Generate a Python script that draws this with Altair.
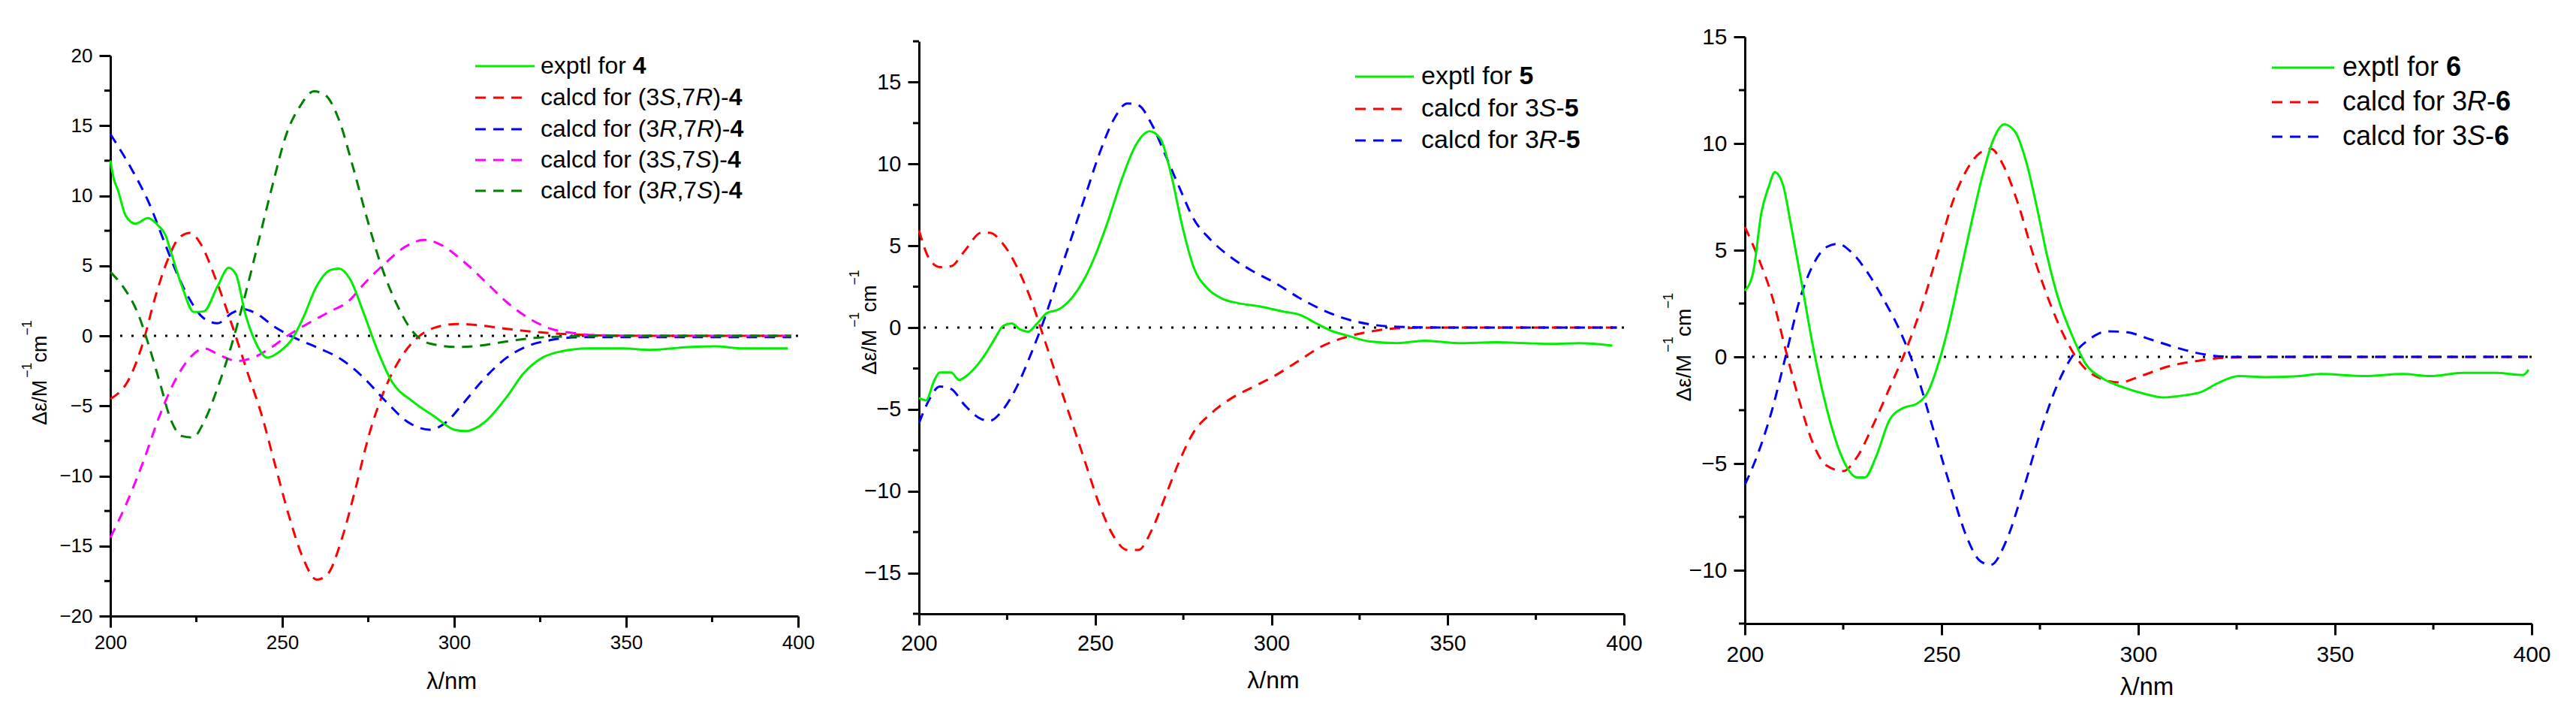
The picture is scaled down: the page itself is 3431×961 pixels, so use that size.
import re
import altair as alt
import pandas as pd

# ---------------- data ----------------
# Panel 1 : compound 4
wl4_exp = [200, 201, 202.2, 204.4, 207.3, 210.9, 213.8, 216, 217.6, 220.8, 224.3, 227.2, 231.2, 234.4,
           236.5, 239.2, 242.4, 245.6, 249.6, 252.8, 256, 260, 264, 266.5, 269.7, 273.7, 277.7, 281.7,
           288, 294.5, 300, 303.3, 308.9, 315.3, 320.1, 325.7, 331.3, 339.3, 349, 357, 368, 376, 384, 392, 397]
cd4_exp = [12.5, 11.2, 10.4, 8.6, 8.0, 8.4, 7.9, 7.2, 6.0, 3.55, 1.7, 1.75, 3.55, 4.85,
           4.4, 1.6, -0.55, -1.55, -1.05, -0.25, 1.25, 3.55, 4.7, 4.8, 4.05, 1.6, -1.05, -3.2,
           -4.7, -5.8, -6.7, -6.8, -6.15, -4.35, -2.7, -1.55, -1.1, -0.9, -0.9, -1.0, -0.8, -0.75, -0.9, -0.9, -0.9]

wl4_s7r = [200, 205.6, 209.6, 212.8, 216.8, 220, 223.2, 226.4, 230.4, 235.2, 240, 244, 248, 252, 256, 260,
           263.2, 267.3, 271.3, 275.3, 280, 284.9, 289.7, 294.5, 300.9, 307.3, 315.3, 324.9, 334.5, 345,
           360, 380, 398]
cd4_s7r = [-4.5, -3.0, -0.4, 2.55, 5.5, 7.0, 7.35, 6.5, 4.2, 0.9, -2.7, -5.65, -9.3, -12.9, -15.85, -17.4,
           -17.0, -14.5, -10.9, -7.0, -3.7, -1.4, -0.05, 0.6, 0.85, 0.75, 0.5, 0.25, 0.1, 0.02,
           0, 0, 0]

wl4_r7r = [200, 206.4, 211.2, 216, 219.2, 223.2, 227.2, 231.2, 235.2, 238.4, 242.4, 248, 252.8, 260.8,
           267.3, 273.7, 280, 286.5, 292.9, 297.7, 302.5, 308.9, 315.3, 321.7, 328.1, 336.1, 344, 360,
           380, 398]
cd4_r7r = [14.4, 11.8, 9.5, 6.5, 4.55, 2.55, 1.25, 0.9, 1.6, 1.9, 1.6, 0.6, -0.05, -0.9,
           -1.7, -3.0, -4.65, -6.15, -6.7, -6.15, -4.85, -3.0, -1.55, -0.7, -0.3, -0.1, -0.1, -0.1,
           -0.1, -0.1]

wl4_s7s = [200, 204.8, 209.6, 214.4, 219.2, 223.2, 227.2, 232, 236.8, 241.6, 246.4, 251.2, 257.6, 264,
           268.9, 274.5, 280, 285.7, 291.3, 296.1, 302.5, 308.9, 315.3, 321.7, 328.1, 334.5, 340.9, 360,
           380, 398]
cd4_s7s = [-14.4, -11.9, -8.95, -5.65, -3.0, -1.55, -0.9, -1.4, -1.8, -1.55, -0.9, -0.05, 0.9, 1.75,
           2.4, 3.9, 5.2, 6.35, 6.85, 6.5, 5.35, 3.9, 2.4, 1.25, 0.5, 0.2, 0.05, 0,
           0, 0]

wl4_r7s = [200, 204, 208, 211.2, 214.4, 217.6, 220.8, 224, 227.2, 231.2, 235.2, 239.2, 243.2, 247.2,
           251.2, 255.2, 259.2, 262.4, 266.5, 270.5, 274.5, 278.5, 283.3, 288.1, 292.9, 300.9, 307.3,
           315.3, 323.3, 331.3, 345, 360, 380, 398]
cd4_r7s = [4.55, 3.4, 1.6, -0.7, -3.35, -6.0, -7.15, -7.25, -6.15, -3.7, -0.7, 2.9, 6.85, 10.8,
           14.4, 16.4, 17.45, 17.2, 15.4, 12.1, 8.5, 5.2, 2.25, 0.25, -0.55, -0.8, -0.7,
           -0.4, -0.15, -0.05, 0, 0, 0, 0]

# Panel 2 : compound 5
wl5_exp = [200, 202, 204.4, 205.9, 209.1, 211.4, 213.8, 216.9, 219.2, 221.6, 223.9, 226.3, 228.6, 231,
           233.3, 236.4, 239.6, 243.5, 246.6, 249.7, 253.6, 257.5, 261.5, 265.4, 268.5, 271.6, 274.7,
           277.9, 281.8, 285.7, 290.4, 296.6, 302.9, 308.4, 312.3, 317, 321.7, 327.9, 335.7, 343.5,
           352.9, 363.9, 371.7, 379.5, 387.3, 396.7]
cd5_exp = [-4.3, -4.45, -3.2, -2.75, -2.75, -3.2, -2.9, -2.2, -1.5, -0.65, 0.1, 0.25, -0.1, -0.25,
           0.2, 0.9, 1.1, 1.85, 2.85, 4.25, 6.5, 9.05, 11.15, 12.0, 11.55, 9.3, 6.2,
           3.7, 2.4, 1.8, 1.5, 1.3, 1.0, 0.75, 0.3, -0.2, -0.5, -0.85, -0.95, -0.8,
           -0.95, -0.9, -0.95, -1.0, -0.95, -1.1]

wl5_calc = [200, 202.8, 205.9, 209.1, 213, 217.7, 220, 223.9, 227.8, 231.7, 235.7, 239.6, 243.5, 247.4,
            251.3, 255.2, 259.1, 262.2, 266.1, 270.1, 274, 277.9, 282.6, 288.8, 295.1, 301.3, 307.6,
            313.8, 320.1, 327.9, 335.7, 350, 370, 398]
cd5_3s = [5.95, 4.25, 3.7, 3.75, 4.7, 5.8, 5.8, 5.1, 3.7, 1.75, -0.8, -3.35, -5.85, -8.4,
          -10.9, -12.75, -13.6, -13.6, -12.35, -10.2, -8.1, -6.4, -5.3, -4.3, -3.6, -2.9, -2.05,
          -1.2, -0.65, -0.25, -0.05, 0, 0, 0]
cd5_3r = [-5.85, -4.45, -3.6, -3.75, -4.75, -5.6, -5.7, -5.0, -3.6, -1.65, 0.6, 3.15, 5.65, 8.2,
          10.7, 12.7, 13.7, 13.6, 12.4, 10.45, 8.5, 6.65, 5.4, 4.25, 3.4, 2.7, 1.85,
          1.15, 0.6, 0.2, 0.05, 0, 0, 0]

# Panel 3 : compound 6
wl6_exp = [200, 202.1, 204.2, 206.2, 207.6, 209.7, 211.8, 214.6, 217.3, 220.1, 222.9, 225.7, 228.5,
           230.5, 233.3, 236.8, 240.2, 243.7, 246.5, 249.3, 252, 254.8, 257.6, 260.4, 263.2, 265.9,
           268.7, 271.5, 274.3, 277, 279.8, 283.3, 286.7, 290.9, 296.5, 302, 306.2, 311.7, 315.9,
           320, 325.6, 332.5, 340.9, 346.4, 357.5, 367.2, 374.2, 382.5, 390.8, 397.8, 399.2]
cd6_exp = [3.1, 3.95, 6.75, 8.05, 8.65, 8.05, 6.1, 3.3, 0.5, -1.9, -3.8, -5.1, -5.65,
           -5.65, -4.7, -2.95, -2.4, -2.2, -1.65, -0.25, 1.6, 3.95, 6.3, 8.5, 10.2, 10.9,
           10.55, 9.15, 6.95, 4.6, 2.65, 0.95, -0.35, -1.0, -1.45, -1.75, -1.9, -1.8, -1.65,
           -1.25, -0.9, -0.95, -0.9, -0.8, -0.9, -0.8, -0.9, -0.75, -0.75, -0.85, -0.6]

wl6_3r = [200, 203.5, 206.9, 210.4, 213.9, 217.3, 220.8, 225, 228.5, 232.6, 236.8, 240.9, 245.1,
          249.3, 252.7, 256.2, 259.7, 262.5, 265.9, 269.4, 273.6, 277.7, 281.9, 286, 290.9, 295.1,
          300.6, 307.6, 314.5, 321.4, 335, 360, 380, 399]
cd6_3r = [6.1, 4.6, 2.85, 0.3, -2.1, -4.05, -5.1, -5.35, -4.7, -3.2, -1.45, 0.3, 2.45,
          5.05, 7.2, 8.7, 9.55, 9.75, 8.9, 7.2, 4.6, 2.45, 0.7, -0.45, -1.05, -1.2,
          -0.9, -0.45, -0.2, -0.05, 0, 0, 0, 0]

wl6_3s = [200, 203.5, 206.9, 210.4, 213.9, 217.3, 220.8, 223.6, 227.1, 231.2, 235.4, 239.6, 243.7,
          247.9, 252.1, 256.2, 259.7, 262.5, 266.6, 270.8, 275, 279.1, 283.3, 287.4, 292.3, 297.2,
          303.4, 310.3, 317.3, 324.2, 340, 360, 380, 399]
cd6_3s = [-6.0, -4.45, -2.5, 0.05, 2.65, 4.3, 5.15, 5.3, 4.9, 3.95, 2.65, 1.15, -0.8,
          -3.4, -6.0, -8.35, -9.55, -9.75, -8.55, -6.2, -3.6, -1.45, 0.05, 0.8, 1.2, 1.15,
          0.8, 0.4, 0.1, 0, 0, 0, 0, 0]

# Legend labels (<i> italic, <b> bold)
lab4 = ["exptl for <b>4</b>",
        "calcd for (3<i>S</i>,7<i>R</i>)-<b>4</b>",
        "calcd for (3<i>R</i>,7<i>R</i>)-<b>4</b>",
        "calcd for (3<i>S</i>,7<i>S</i>)-<b>4</b>",
        "calcd for (3<i>R</i>,7<i>S</i>)-<b>4</b>"]
lab5 = ["exptl for <b>5</b>",
        "calcd for 3<i>S</i>-<b>5</b>",
        "calcd for 3<i>R</i>-<b>5</b>"]
lab6 = ["exptl for <b>6</b>",
        "calcd for 3<i>R</i>-<b>6</b>",
        "calcd for 3<i>S</i>-<b>6</b>"]

# y-axis title pieces: (text, is_superscript)
ytitle_parts = [("Δε/M", False), ("−1", True), ("cm", False), ("−1", True)]
x_title = "λ/nm"

x_major = [200, 250, 300, 350, 400]
x_minor = [225, 275, 325, 375]

# ---------------- styling ----------------
FONT = "Liberation Sans"
GREEN = "#00ee00"
RED = "#ff0000"
BLUE = "#0000ff"
MAGENTA = "#ff00ff"
DKGREEN = "#008000"
DASH = [14, 10]

# Arial / Liberation Sans advance widths (1/1000 em)
AW = {'a': 556, 'c': 500, 'd': 556, 'e': 556, 'f': 278, 'l': 222, 'o': 556, 'p': 556, 'r': 333,
      't': 278, 'x': 500, ' ': 278, '(': 333, ')': 333, ',': 278, '-': 333, 'S': 667, 'R': 722,
      'Δ': 668, 'ε': 550, '/': 278, 'M': 833, 'm': 833, '−': 584, '1': 556}


def text_width(s, fs):
    return sum(AW.get(ch, 556) for ch in s) * fs / 1000.0


def parse(markup):
    out = []
    for tag, inner, plain in re.findall(r'<(i|b)>(.*?)</\1>|([^<]+)', markup):
        out.append((inner, tag) if tag else (plain, 'n'))
    return out


one = pd.DataFrame({'k': [0]})


def legend_layers(labels, styles, x1, len_solid, len_dash, xtext, ys, fs):
    layers = []
    for markup, (color, dash), y in zip(labels, styles, ys):
        kw = dict(color=color, strokeWidth=3)
        if dash:
            kw['strokeDash'] = dash
            x2 = x1 + len_dash
        else:
            x2 = x1 + len_solid
        layers.append(alt.Chart(one).mark_rule(**kw).encode(
            x=alt.value(x1), x2=alt.value(x2), y=alt.value(y)))
        x = xtext
        for seg, st in parse(markup):
            mk = dict(text=seg, font=FONT, fontSize=fs, align='left', baseline='middle', color='black')
            if st == 'i':
                mk['fontStyle'] = 'italic'
            if st == 'b':
                mk['fontWeight'] = 'bold'
            layers.append(alt.Chart(one).mark_text(**mk).encode(x=alt.value(x), y=alt.value(y)))
            x += text_width(seg, fs)
    return layers


def ytitle_layers(cx, cy, fs, raise_, sup_scale=0.66):
    sizes = [fs * sup_scale if sup else fs for _, sup in ytitle_parts]
    total = sum(text_width(t, s) for (t, _), s in zip(ytitle_parts, sizes))
    bx = cx + 0.36 * fs
    y = cy + total / 2.0
    layers = []
    for (t, sup), s in zip(ytitle_parts, sizes):
        x = bx - raise_ if sup else bx
        layers.append(alt.Chart(one).mark_text(
            text=t, font=FONT, fontSize=s, angle=270, align='left', baseline='alphabetic',
            color='black').encode(x=alt.value(x), y=alt.value(y)))
        y -= text_width(t, s)
    return layers


def panel(series, labels, ydom, ymaj, ymin, W, H, ytop, fs_tick, fs_xt,
          x_lp, y_lp, xtitle_dx, xtitle_y, yt, leg):
    xscale = alt.Scale(domain=[200, 400], nice=False, zero=False)
    yscale = alt.Scale(domain=ydom, range=[H, ytop], nice=False, zero=False)
    xaxis = alt.Axis(values=x_major, title=x_title, grid=False, tickSize=15, tickWidth=3,
                     tickColor='black', domainColor='black', domainWidth=3, labelFont=FONT,
                     labelFontSize=fs_tick, labelColor='black', labelPadding=x_lp, labelFlush=False,
                     labelOverlap=False, titleFont=FONT, titleFontSize=fs_xt, titleFontWeight='normal',
                     titleColor='black', titleX=W / 2 + xtitle_dx, titleY=xtitle_y, titleAlign='center',
                     titleBaseline='middle')
    yaxis = alt.Axis(values=ymaj, title=None, grid=False, tickSize=15, tickWidth=3,
                     tickColor='black', domainColor='black', domainWidth=3, labelFont=FONT,
                     labelFontSize=fs_tick, labelColor='black', labelPadding=y_lp, labelFlush=False,
                     labelOverlap=False)
    xenc = alt.X('wl:Q', scale=xscale, axis=xaxis)
    yenc = alt.Y('cd:Q', scale=yscale, axis=yaxis)

    layers = []
    # zero reference line (dotted)
    layers.append(alt.Chart(pd.DataFrame({'cd': [0]})).mark_rule(
        color='black', strokeWidth=3, strokeDash=[3, 12]).encode(y=yenc))
    # minor ticks
    layers.append(alt.Chart(pd.DataFrame({'cd': ymin})).mark_rule(color='black', strokeWidth=3).encode(
        y=yenc, x=alt.value(0), x2=alt.value(-8)))
    layers.append(alt.Chart(pd.DataFrame({'wl': x_minor})).mark_rule(color='black', strokeWidth=3).encode(
        x=xenc, y=alt.value(H), y2=alt.value(H + 8)))
    # curves: dashed first, experimental last (on top)
    ordered = [s for s in series if s[3]] + [s for s in series if not s[3]]
    for wl, cd, color, dash in ordered:
        df = pd.DataFrame({'wl': wl, 'cd': cd})
        kw = dict(color=color, strokeWidth=3, interpolate='monotone')
        if dash:
            kw['strokeDash'] = dash
        layers.append(alt.Chart(df).mark_line(**kw).encode(x=xenc, y=yenc))
    styles = [(s[2], s[3]) for s in series]
    layers += legend_layers(labels, styles, *leg)
    layers += ytitle_layers(*yt)
    return alt.layer(*layers).properties(width=W, height=H)


p1 = panel(
    [(wl4_exp, cd4_exp, GREEN, None), (wl4_s7r, cd4_s7r, RED, DASH), (wl4_r7r, cd4_r7r, BLUE, DASH),
     (wl4_s7s, cd4_s7s, MAGENTA, DASH), (wl4_r7s, cd4_r7s, DKGREEN, DASH)],
    lab4, [-20, 20], [-20, -15, -10, -5, 0, 5, 10, 15, 20], [-17.5, -12.5, -7.5, -2.5, 2.5, 7.5, 12.5, 17.5],
    W=916, H=771, ytop=25, fs_tick=26, fs_xt=31, x_lp=7, y_lp=9,
    xtitle_dx=-4, xtitle_y=87, yt=(-95, 447, 27, 20),
    leg=(486, 79, 62, 573, [39, 81, 123, 164, 205], 32))

p2 = panel(
    [(wl5_exp, cd5_exp, GREEN, None), (wl5_calc, cd5_3s, RED, DASH), (wl5_calc, cd5_3r, BLUE, DASH)],
    lab5, [-17.5, 17.5], [-15, -10, -5, 0, 5, 10, 15], [-17.5, -12.5, -7.5, -2.5, 2.5, 7.5, 12.5, 17.5],
    W=939, H=768, ytop=6, fs_tick=29, fs_xt=32, x_lp=10, y_lp=9,
    xtitle_dx=2, xtitle_y=88, yt=(-67, 380, 27, 23),
    leg=(581, 78, 64, 669, [53, 96, 138], 34))

p3 = panel(
    [(wl6_exp, cd6_exp, GREEN, None), (wl6_3r, cd6_3r, RED, DASH), (wl6_3s, cd6_3s, BLUE, DASH)],
    lab6, [-12.5, 15], [-10, -5, 0, 5, 10, 15], [-12.5, -7.5, -2.5, 2.5, 7.5, 12.5],
    W=1048, H=781, ytop=0, fs_tick=30, fs_xt=33, x_lp=11, y_lp=9,
    xtitle_dx=11, xtitle_y=84, yt=(-82, 413, 28, 24),
    leg=(702, 83, 66, 796, [41, 87, 133], 36))

chart = alt.hconcat(p1, p2, p3, spacing=161, bounds='flush').properties(
    padding={'left': 19, 'top': 26, 'right': 5, 'bottom': 5},
    background='white'
).configure_view(stroke=None)

chart.save("out.html", embed_options={"renderer": "svg", "actions": False})
